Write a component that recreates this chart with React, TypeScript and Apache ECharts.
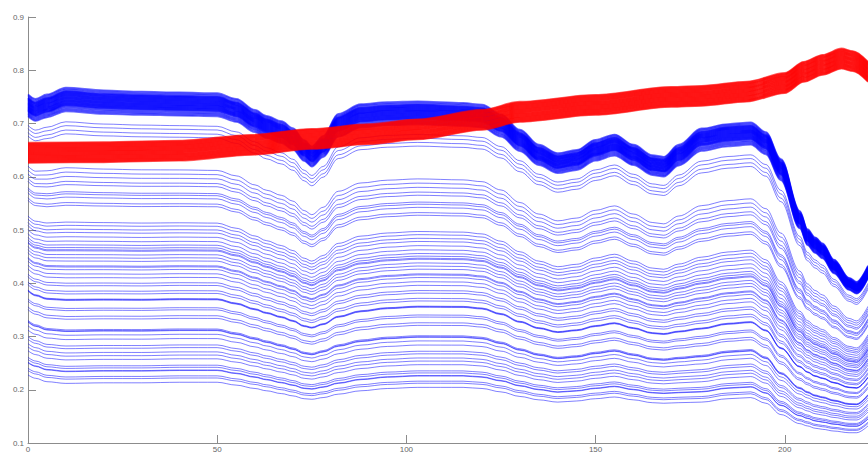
import React, { useEffect, useRef } from "react";
import * as echarts from "echarts";

// Sample positions (band index) along the x axis
const X_POINTS = [0,2,5,10,20,30,40,50,55,60,63,67,70,73,75,78,82,88,95,103,115,120,125,130,135,140,145,150,155,160,165,168,172,178,185,191,195,199,204,206,208,210,213,217,219,222];
// Relative spectral shape of the bright (top) blue curves
const SHAPE_HIGH = [0.993,0.982,0.993,1.01,1.003,1.0,0.998,0.996,0.982,0.955,0.94,0.927,0.91,0.88,0.865,0.89,0.945,0.969,0.974,0.976,0.972,0.968,0.944,0.906,0.869,0.848,0.856,0.881,0.894,0.869,0.843,0.839,0.869,0.909,0.92,0.924,0.9,0.833,0.705,0.66,0.64,0.625,0.585,0.54,0.53,0.57];
// Relative spectral shape of the darkest (bottom) blue curves
const SHAPE_LOW = [1.07,1.04,1.01,0.995,1.0,1.0,1.005,1.005,0.98,0.95,0.93,0.905,0.885,0.86,0.855,0.87,0.9,0.93,0.95,0.96,0.96,0.95,0.92,0.88,0.85,0.83,0.84,0.86,0.875,0.85,0.825,0.82,0.825,0.83,0.86,0.87,0.82,0.72,0.64,0.62,0.6,0.59,0.575,0.56,0.56,0.62];

// Level (value near x = 25) of each thin blue curve
const BLUE_THIN_LEVELS = [0.697,0.690,0.682,0.675,0.613,0.605,0.597,0.588,0.582,0.569,0.565,0.559,0.549,0.544,0.513,0.507,0.500,0.494,0.486,0.478,0.471,0.466,0.462,0.460,0.453,0.447,0.441,0.432,0.430,0.425,0.417,0.410,0.400,0.395,0.385,0.380,0.370,0.369,0.368,0.353,0.349,0.338,0.333,0.313,0.311,0.310,0.303,0.295,0.283,0.278,0.270,0.264,0.257,0.245,0.241,0.236,0.235,0.225,0.221,0.213];
// Levels of the dense bundle of blue curves at the top
const BLUE_BAND_LEVELS = [0.716,0.718,0.720,0.722,0.724,0.726,0.727,0.728,0.729,0.730,0.731,0.732,0.733,0.734,0.735,0.736,0.737,0.738,0.739,0.740,0.741,0.742,0.743,0.744,0.745,0.746,0.747,0.748,0.749,0.750,0.751,0.752,0.753,0.754,0.756,0.758,0.760];

// Red bundle: centre curve and per-curve offsets
const RED_X = [0,20,40,59,75,90,103,120,130,150,170,178,190,200,205,210,215,218,222];
const RED_CENTER = [0.645,0.646,0.649,0.66,0.671,0.68,0.689,0.707,0.722,0.735,0.75,0.752,0.76,0.776,0.797,0.81,0.822,0.817,0.797];
const RED_OFFSETS = [-0.019,-0.018,-0.017,-0.016,-0.015,-0.014,-0.013,-0.012,-0.011,-0.010,-0.009,-0.008,-0.007,-0.006,-0.005,-0.004,-0.003,-0.002,-0.001,0,0.001,0.002,0.003,0.004,0.005,0.006,0.007,0.008,0.009,0.010,0.011,0.012,0.013,0.014,0.015,0.016,0.017,0.018,0.019];

const X_MIN = 0;
const X_MAX = 222;
const Y_MIN = 0.1;
const Y_MAX = 0.9;

function blueCurve(level: number): number[][] {
  const lo = 0.213, hi = 0.738;
  let w = (level - lo) / (hi - lo);
  w = Math.max(0, Math.min(1, w));
  return X_POINTS.map((x, i) => [x, level * (w * SHAPE_HIGH[i] + (1 - w) * SHAPE_LOW[i])]);
}

export default function App() {
  const ref = useRef<HTMLDivElement>(null);
  useEffect(() => {
    document.body.style.margin = "0";
    if (!ref.current) return;
    const chart = echarts.init(ref.current, null, { renderer: "svg" });
    const series: any[] = [];
    BLUE_THIN_LEVELS.forEach((lv) => {
      series.push({
        type: "line", data: blueCurve(lv), showSymbol: false, smooth: 0.35, smoothMonotone: "x",
        lineStyle: { color: "#0000ff", width: 1, opacity: 0.5 }, silent: true,
      });
    });
    BLUE_BAND_LEVELS.forEach((lv) => {
      series.push({
        type: "line", data: blueCurve(lv), showSymbol: false, smooth: 0.35, smoothMonotone: "x",
        lineStyle: { color: "#0000ff", width: 1.6, opacity: 0.6 }, silent: true,
      });
    });
    RED_OFFSETS.forEach((off) => {
      series.push({
        type: "line", data: RED_X.map((x, i) => [x, RED_CENTER[i] + off]), showSymbol: false,
        smooth: 0.3, smoothMonotone: "x",
        lineStyle: { color: "#ff0000", width: 1.6, opacity: 0.6 }, silent: true,
      });
    });
    chart.setOption({
      animation: false,
      backgroundColor: "#ffffff",
      grid: { left: 28, right: 0, top: 17, bottom: 12, containLabel: false },
      xAxis: {
        type: "value", min: X_MIN, max: X_MAX, interval: 50,
        axisLine: { show: true, lineStyle: { color: "#8c8c8c", width: 1 } },
        axisTick: { show: true, inside: true, length: 8, lineStyle: { color: "#8c8c8c" } },
        axisLabel: { color: "#666", fontSize: 8, margin: 2, fontFamily: "Liberation Sans", showMaxLabel: false },
        splitLine: { show: false },
      },
      yAxis: {
        type: "value", min: Y_MIN, max: Y_MAX, interval: 0.1,
        axisLine: { show: true, lineStyle: { color: "#8c8c8c", width: 1 } },
        axisTick: { show: true, inside: true, length: 8, lineStyle: { color: "#8c8c8c" } },
        axisLabel: { color: "#666", fontSize: 8, margin: 4, fontFamily: "Liberation Sans", formatter: (v: number) => v.toFixed(1) },
        splitLine: { show: false },
      },
      series,
    });
    return () => chart.dispose();
  }, []);
  return <div ref={ref} style={{ width: 868, height: 455 }} />;
}
